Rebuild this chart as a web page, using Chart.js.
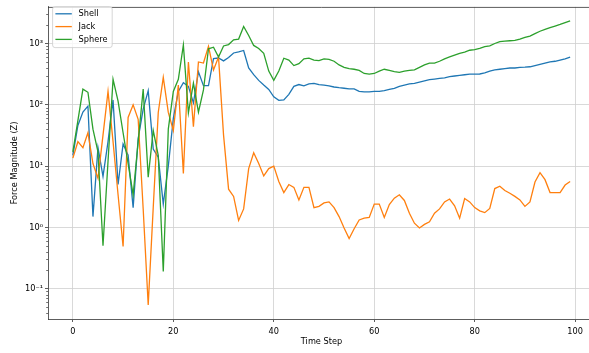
<!DOCTYPE html>
<html>
<head>
<meta charset="utf-8">
<script src="https://cdn.jsdelivr.net/npm/chart.js@4.4.1/dist/chart.umd.min.js"></script>
<style>
  html, body { margin: 0; padding: 0; background: #fff; overflow: hidden; }
  #wrap { width: 589px; height: 353px; overflow: hidden; }
  canvas { display: block; }
</style>
</head>
<body>
<div id="wrap"><canvas id="c" width="595" height="353"></canvas></div>
<script>
// Time steps 0..99
const timeSteps = Array.from({ length: 100 }, (_, i) => i);

// Force magnitude (Z) per time step
const shell = [
  15, 46, 76, 95, 1.5, 20, 6.8, 25, 120, 5.0,
  23, 15, 2.1, 28, 85, 170, 19, 14, 2.4, 10,
  60, 165, 230, 200, 107, 345, 205, 205, 565, 580,
  520, 590, 700, 730, 770, 400, 310, 250, 210, 178,
  135, 118, 120, 148, 200, 214, 204, 219, 224, 214,
  209, 204, 195, 190, 186, 182, 182, 166, 162, 162,
  166, 166, 170, 178, 186, 200, 209, 219, 224, 234,
  245, 257, 263, 269, 275, 288, 295, 302, 309, 316,
  316, 318, 331, 355, 372, 380, 389, 398, 398, 407,
  410, 417, 436, 457, 478, 500, 513, 537, 562, 600
];
const jack = [
  13.5, 25, 20, 35, 11, 6.3, 32, 165, 25, 3.4,
  0.49, 62, 100, 58, 2.0, 0.054, 2.1, 75, 280, 75,
  38, 210, 7.6, 500, 44, 500, 480, 900, 370, 600,
  32, 4.2, 3.2, 1.3, 2.0, 9.1, 16.5, 11, 6.9, 9.1,
  10, 5.6, 3.7, 5.0, 4.5, 2.8, 4.5, 4.5, 2.1, 2.2,
  2.5, 2.6, 2.1, 1.5, 0.98, 0.66, 0.95, 1.32, 1.41, 1.45,
  2.4, 2.4, 1.45, 2.35, 3.0, 3.4, 2.75, 1.7, 1.17, 0.98,
  1.12, 1.23, 1.7, 2.0, 2.6, 2.9, 2.25, 1.41, 2.95, 2.6,
  2.1, 1.86, 1.74, 2.04, 4.3, 4.7, 4.0, 3.6, 3.2, 2.8,
  2.2, 2.6, 5.5, 7.8, 6.0, 3.7, 3.7, 3.7, 4.9, 5.6
];
const sphere = [
  17, 55, 180, 160, 40, 17, 0.5, 12, 260, 115,
  35, 11, 3.4, 25, 180, 6.6, 38, 15, 0.19, 40,
  165, 260, 950, 74, 225, 76, 175, 820, 870, 600,
  910, 960, 1150, 1180, 1900, 1350, 930, 830, 690, 355,
  250, 355, 575, 537, 436, 468, 562, 575, 537, 525,
  562, 550, 513, 447, 407, 389, 380, 363, 324, 316,
  324, 355, 380, 363, 347, 339, 355, 363, 372, 407,
  447, 479, 479, 513, 562, 603, 646, 692, 724, 776,
  794, 832, 891, 912, 1000, 1070, 1096, 1109, 1122, 1175,
  1259, 1318, 1445, 1585, 1698, 1820, 1928, 2042, 2188, 2344
];

const seriesNames = ['Shell', 'Jack', 'Sphere'];
const seriesColors = ['#1f77b4', '#ff7f0e', '#2ca02c'];
const xTickValues = [0, 20, 40, 60, 80, 100];
const yDecades = [-1, 0, 1, 2, 3];
const superscripts = { '-': '\u207B', '0': '\u2070', '1': '\u00B9', '2': '\u00B2', '3': '\u00B3' };

const FONT = 'DejaVu Sans';
const FS = 8.2;

function isDecade(v) {
  const l = Math.log10(v);
  return Math.abs(l - Math.round(l)) < 1e-9;
}
function decadeLabel(v) {
  const e = String(Math.round(Math.log10(v)));
  return '10' + e.split('').map(ch => superscripts[ch]).join('');
}

const toPoints = arr => arr.map((v, i) => ({ x: timeSteps[i], y: v }));

// Frame, minor ticks and legend box
const decorations = {
  id: 'decorations',
  afterDraw(chart) {
    const { ctx, chartArea: a, scales } = chart;
    ctx.save();
    // minor tick marks on the log axis
    ctx.strokeStyle = '#333';
    ctx.lineWidth = 0.7;
    scales.y.ticks.forEach(t => {
      if (isDecade(t.value)) return;
      const py = Math.round(scales.y.getPixelForValue(t.value)) + 0.5;
      ctx.beginPath();
      ctx.moveTo(a.left, py);
      ctx.lineTo(a.left - 1.8, py);
      ctx.stroke();
    });
    // top and right spines
    ctx.strokeStyle = '#333';
    ctx.lineWidth = 0.8;
    ctx.beginPath();
    ctx.moveTo(a.left, a.top + 0.5);
    ctx.lineTo(a.right, a.top + 0.5);
    ctx.lineTo(a.right, a.bottom);
    ctx.stroke();

    // legend
    const bx = 52.1, by = 6.1, bw = 59.6, bh = 41;
    ctx.beginPath();
    ctx.roundRect(bx + 0.5, by + 0.5, bw, bh, 2.5);
    ctx.fillStyle = 'rgba(255,255,255,0.8)';
    ctx.fill();
    ctx.strokeStyle = '#cccccc';
    ctx.lineWidth = 0.8;
    ctx.stroke();
    ctx.font = FS + 'px "' + FONT + '"';
    ctx.textBaseline = 'middle';
    ctx.textAlign = 'left';
    seriesNames.forEach((name, k) => {
      const cy = 13.8 + k * 12.8;
      ctx.strokeStyle = seriesColors[k];
      ctx.lineWidth = 1.3;
      ctx.beginPath();
      ctx.moveTo(55.4, cy);
      ctx.lineTo(71.8, cy);
      ctx.stroke();
      ctx.fillStyle = '#000';
      ctx.fillText(name, 78.6, cy + 0.5);
    });
    ctx.restore();
  }
};

new Chart(document.getElementById('c'), {
  type: 'line',
  data: {
    datasets: [shell, jack, sphere].map((arr, k) => ({
      label: seriesNames[k],
      data: toPoints(arr),
      borderColor: seriesColors[k],
      backgroundColor: seriesColors[k],
      borderWidth: 1.3,
      pointRadius: 0,
      tension: 0,
      fill: false,
      order: 2 - k
    }))
  },
  options: {
    responsive: false,
    animation: false,
    devicePixelRatio: 1,
    layout: { padding: { top: 2, left: 0, right: 0, bottom: 0 } },
    plugins: { legend: { display: false }, tooltip: { enabled: false } },
    scales: {
      x: {
        type: 'linear',
        min: -4.95,
        max: 103.95,
        afterBuildTicks: s => { s.ticks = xTickValues.map(v => ({ value: v })); },
        afterFit: s => { s.height = 34; },
        ticks: {
          autoSkip: false,
          maxRotation: 0,
          padding: 5,
          color: '#000',
          font: { family: FONT, size: FS },
          callback: v => String(v)
        },
        grid: { color: '#cfcfcf', lineWidth: 0.8, tickColor: '#333', tickLength: 3 },
        border: { color: '#333', width: 0.8 },
        title: {
          display: true,
          text: 'Time Step',
          color: '#000',
          font: { family: FONT, size: FS },
          padding: { top: 0, bottom: 6 }
        }
      },
      y: {
        type: 'logarithmic',
        min: 0.032,
        max: 3950,
        afterBuildTicks: s => {
          const t = [];
          for (let e = -2; e <= 3; e++) {
            for (let m = 1; m <= 9; m++) {
              const v = m * Math.pow(10, e);
              if (v >= s.min && v <= s.max) t.push({ value: v });
            }
          }
          s.ticks = t;
        },
        afterFit: s => { s.width = 48; },
        ticks: {
          autoSkip: false,
          padding: 2,
          color: '#000',
          font: { family: FONT, size: FS },
          callback: v => (isDecade(v) && yDecades.includes(Math.round(Math.log10(v)))) ? decadeLabel(v) : ''
        },
        grid: {
          color: c => (c.tick && isDecade(c.tick.value)) ? '#cfcfcf' : 'rgba(0,0,0,0)',
          tickColor: c => (c.tick && isDecade(c.tick.value)) ? '#333' : 'rgba(0,0,0,0)',
          lineWidth: 0.8,
          tickLength: 3
        },
        border: { color: '#333', width: 0.8 },
        title: {
          display: true,
          text: 'Force Magnitude (Z)',
          color: '#000',
          font: { family: FONT, size: FS },
          padding: { top: 10, bottom: 0 }
        }
      }
    }
  },
  plugins: [decorations]
});
</script>
</body>
</html>
